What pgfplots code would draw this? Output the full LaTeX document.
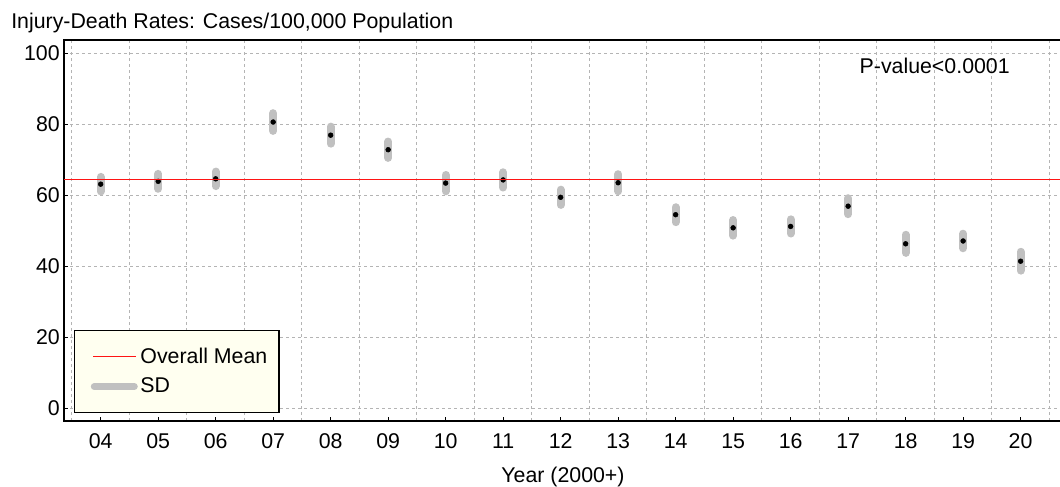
\documentclass[border=0pt]{standalone}
\usepackage{pgfplots}
\pgfplotsset{compat=1.18}
\usepackage{pgfplotstable}
\usepackage{fontspec}
\setmainfont{Liberation Sans}
\definecolor{sdgray}{HTML}{C0C0C0}
\definecolor{gridgray}{HTML}{B4B4B4}
\definecolor{legfill}{HTML}{FFFFF0}
\definecolor{meanred}{RGB}{255,20,20}
\pgfplotstableread{
x y sd
0 63.1 2.05
1 63.9 2.1
2 64.6 2.05
3 80.6 2.5
4 76.9 2.4
5 72.8 2.3
6 63.4 2.3
7 64.3 2.15
8 59.4 2.15
9 63.5 2.4
10 54.5 2.1
11 50.8 2.2
12 51.2 2.0
13 56.9 2.25
14 46.3 2.55
15 47.1 2.05
16 41.4 2.65
}\data
\begin{document}
\begin{tikzpicture}
\begin{axis}[
  name=ax,
  scale only axis,
  width=748.5pt, height=285.75pt,
  xmin=-0.638, xmax=16.72,
  ymin=-3.6, ymax=103.7,
  font=\fontsize{16}{19}\selectfont,
  /pgf/number format/assume math mode=true,
  axis line style={black, line width=1pt},
  tick pos=left,
  tick align=inside,
  major tick length=3pt,
  minor tick length=0pt,
  tick style={black, line width=0.8pt},
  xtick={0,...,16},
  xticklabels={04,05,06,07,08,09,10,11,12,13,14,15,16,17,18,19,20},
  minor xtick={-0.5,0.5,...,16.5},
  ytick={0,20,...,100},
  xmajorgrids=false, xminorgrids=true, ymajorgrids=true,
  grid style={gridgray, line width=0.75pt, dash pattern=on 2.25pt off 2.25pt},
  minor grid style={gridgray, line width=0.75pt, dash pattern=on 2.25pt off 2.25pt},
  xticklabel style={inner sep=0pt, anchor=base, yshift=-20.25pt},
  yticklabel style={inner sep=0pt, anchor=east, xshift=-3pt},
  xlabel={Year (2000+)},
  xlabel style={at={(axis description cs:0.5,0)}, anchor=north, inner sep=0pt, yshift=-34pt},
  legend style={at={(0.0100,0.0202)}, anchor=south west, fill=legfill, draw=black, line width=1pt,
    inner xsep=6.75pt, inner ysep=11.25pt, font=\fontsize{16}{19}\selectfont, row sep=5.5pt},
  legend cell align=left,
]
% overall mean = 64.4, spanning the whole x range
\coordinate (m0) at (axis cs:-0.638,64.4);
\coordinate (m1) at (axis cs:16.72,64.4);
\addplot[draw=none, mark=none, forget plot,
  error bars/.cd, y dir=both, y explicit, error mark=none,
  error bar style={draw=sdgray, line width=6pt, line cap=round}]
  table[x=x, y=y, y error=sd] {\data};
\addplot[only marks, mark=*, mark size=1.8pt, color=black, forget plot] table[x=x, y=y] {\data};
\addlegendimage{legend image code/.code={\path (0pt,0pt); \draw[color=meanred, line width=1pt] (6.75pt,0pt) -- (38.5pt,0pt);}}
\addlegendentry{Overall Mean}
\addlegendimage{legend image code/.code={\path (0pt,0pt); \draw[color=sdgray, line width=5.25pt, line cap=round] (7.5pt,0pt) -- (37.5pt,0pt);}}
\addlegendentry{SD}
\node[anchor=base west, inner sep=0pt] at (rel axis cs:0.797,0.913) {P-value<0.0001};
\end{axis}
\draw[color=meanred, line width=1.2pt] (m0) -- (m1);
\node[anchor=base west, inner sep=0pt, xshift=-39.75pt, yshift=8.25pt, font=\fontsize{16}{19}\selectfont] at (ax.north west) {Injury-Death Rates: Cases/100,000 Population};
\pgfresetboundingbox
\path[use as bounding box] (-48pt,-48.75pt) rectangle (747pt,315.75pt);
\end{tikzpicture}
\end{document}
